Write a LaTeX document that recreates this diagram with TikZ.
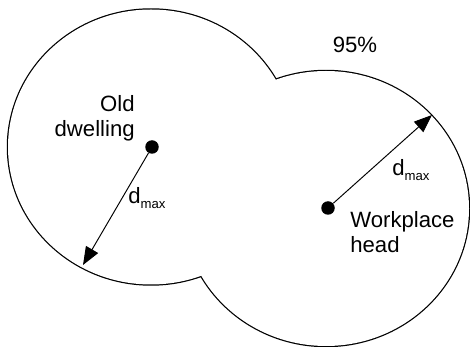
\documentclass[tikz,border=0pt]{standalone}
\usepackage{fontspec}
\setmainfont{Liberation Sans}
\usetikzlibrary{arrows.meta}
\newcommand{\dmax}{d\raisebox{-2.8pt}{\fontsize{7.5}{9}\selectfont max}}
\begin{document}
\begin{tikzpicture}[x=0.02cm, y=-0.02cm,
    lbl/.style={font=\fontsize{12.6}{14.7}\selectfont, inner sep=0pt},
    dot/.style={circle, fill=black, inner sep=0pt, minimum size=0.27cm},
    reach/.style={-{Triangle[length=0.36cm, width=0.28cm]}, line width=0.55pt}]
  \useasboundingbox (0,0) rectangle (470,347);
  % outline of both zones: lines drawn twice as wide, then the white fill hides the inner half
  \draw[line width=1.4pt] (151,147) ellipse (143 and 137.5);
  \draw[line width=1.4pt] (326,208.5) ellipse (143 and 137.5);
  \fill[white] (151,147) ellipse (143 and 137.5);
  \fill[white] (326,208.5) ellipse (143 and 137.5);

  % centres and radii
  \node[dot] (old) at (152,147) {};
  \node[dot] (work) at (328,208) {};
  \coordinate (oldrim) at (83,265);
  \coordinate (workrim) at (432,115);
  \draw[reach] (old) -- (oldrim);
  \draw[reach] (work) -- (workrim);

  % texts (base = baseline of the last line)
  \node[lbl, align=right, anchor=base east] (oldlabel) at (135,137) {Old\\dwelling};
  \node[lbl, align=left, anchor=base west] (worklabel) at (350,253) {Workplace\\head};
  \node[lbl, anchor=base] (share) at (355,53) {95\%};
  \node[lbl, anchor=base west] (olddist) at (128,204) {\dmax};
  \node[lbl, anchor=base west] (workdist) at (392,176) {\dmax};
\end{tikzpicture}
\end{document}
